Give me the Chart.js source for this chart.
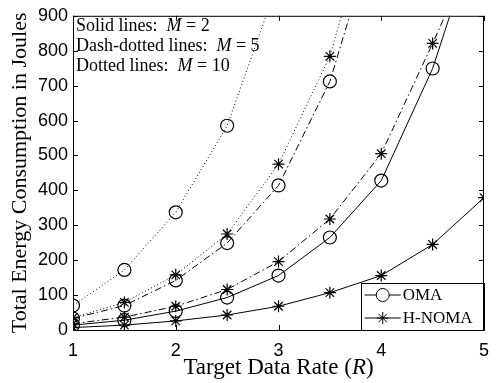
<!DOCTYPE html>
<html>
<head>
<meta charset="utf-8">
<script src="https://cdn.jsdelivr.net/npm/chart.js@4"></script>
<style>
  body { margin: 0; background: #fff; }
  #wrap { width: 501px; height: 383px; }
</style>
</head>
<body>
<div id="wrap"><canvas id="energyChart"></canvas></div>
<script>
// target data rate R
const rates = [1, 1.5, 2, 2.5, 3, 3.5, 4, 4.5, 5];

// energy in Joules (values above 900 only steer the line off the top)
const omaM2 = [14, 28, 54, 93, 156, 265, 428, 749, 1200];
const hnomaM2 = [7, 14, 26, 43, 68, 107, 156, 245, 379];
const omaM5 = [33, 70, 142, 249, 414, 712, 1200, null, null];
const hnomaM5 = [18, 37, 68, 116, 196, 318, 505, 821, 1150];
const omaM10 = [70, 172, 337, 585, 1000, null, null, null, null];
const hnomaM10 = [35, 79, 158, 275, 475, 784, 1300, null, null];

const yTicks = [0, 100, 200, 300, 400, 500, 600, 700, 800, 900];
const xTicks = [1, 2, 3, 4, 5];

const serif = '"Liberation Serif", serif';
const sans = '"Liberation Sans", Arial, sans-serif';

const solid = [];
const dashDot = [7, 3, 1.5, 3];
const dotted = [1, 2.5];

function series(label, values, dash, marker) {
    return {
        label: label,
        data: rates.map((r, i) => ({ x: r, y: values[i] })),
        borderColor: '#000',
        borderWidth: 1,
        borderDash: dash,
        pointStyle: marker,
        pointRadius: marker === 'circle' ? 6.5 : 6,
        pointBorderColor: '#000',
        pointBackgroundColor: 'rgba(0,0,0,0)',
        pointBorderWidth: 1.2,
        tension: 0,
        fill: false
    };
}

// draws text made of plain and italic pieces, left aligned
function mixedText(ctx, parts, x, y, size) {
    parts.forEach(p => {
        ctx.font = (p[1] ? 'italic ' : '') + size + 'px ' + serif;
        ctx.fillText(p[0], x, y);
        x += ctx.measureText(p[0]).width;
    });
}

function mixedWidth(ctx, parts, size) {
    let w = 0;
    parts.forEach(p => {
        ctx.font = (p[1] ? 'italic ' : '') + size + 'px ' + serif;
        w += ctx.measureText(p[0]).width;
    });
    return w;
}

const framePlugin = {
    id: 'frame',
    afterDraw(chart) {
        const ctx = chart.ctx;
        const a = chart.chartArea;
        const xs = chart.scales.x;
        const ys = chart.scales.y;
        ctx.save();
        ctx.strokeStyle = '#000';
        ctx.lineWidth = 1;

        // inner ticks on all four sides
        ctx.beginPath();
        yTicks.forEach(v => {
            const py = Math.round(ys.getPixelForValue(v)) + 0.5;
            ctx.moveTo(a.left, py); ctx.lineTo(a.left + 5, py);
            ctx.moveTo(a.right, py); ctx.lineTo(a.right - 5, py);
        });
        xTicks.forEach(v => {
            const px = Math.round(xs.getPixelForValue(v)) + 0.5;
            ctx.moveTo(px, a.bottom); ctx.lineTo(px, a.bottom - 5);
            ctx.moveTo(px, a.top); ctx.lineTo(px, a.top + 5);
        });
        ctx.stroke();

        // note in the upper left corner
        ctx.fillStyle = '#000';
        ctx.textBaseline = 'middle';
        ctx.textAlign = 'left';
        const notes = [
            [['Solid lines:  ', false], ['M', true], [' = 2', false]],
            [['Dash-dotted lines:  ', false], ['M', true], [' = 5', false]],
            [['Dotted lines:  ', false], ['M', true], [' = 10', false]]
        ];
        notes.forEach((n, i) => mixedText(ctx, n, a.left + 3, a.top + 10 + i * 20, 18));

        // legend box in the lower right corner
        const lx = a.left + (a.right - a.left) * 0.7;
        const ly = a.bottom - 47;
        ctx.fillStyle = '#fff';
        ctx.fillRect(lx, ly, a.right - lx, a.bottom - ly);
        ctx.strokeRect(Math.round(lx) + 0.5, Math.round(ly) + 0.5, a.right - Math.round(lx), a.bottom - Math.round(ly));
        const entries = [['OMA', 'circle', 6.5], ['H-NOMA', 'star', 6]];
        entries.forEach((e, i) => {
            const cy = ly + 12 + i * 23;
            ctx.beginPath();
            ctx.moveTo(lx + 4, cy); ctx.lineTo(lx + 40, cy);
            ctx.stroke();
            Chart.helpers.drawPoint(ctx, { pointStyle: e[1], radius: e[2], borderWidth: 1.2 }, lx + 22, cy);
            ctx.fillStyle = '#000';
            ctx.font = '17px ' + serif;
            ctx.fillText(e[0], lx + 42, cy + 1);
        });

        // outer box
        ctx.strokeRect(a.left + 0.5, a.top + 0.5, a.right - a.left - 1, a.bottom - a.top);

        // axis titles
        ctx.fillStyle = '#000';
        const xt = [['Target Data Rate (', false], ['R', true], [')', false]];
        const xw = mixedWidth(ctx, xt, 23);
        mixedText(ctx, xt, (a.left + a.right) / 2 - xw / 2, 368, 23);

        ctx.translate(20, (a.top + a.bottom) / 2);
        ctx.rotate(-Math.PI / 2);
        ctx.textAlign = 'center';
        ctx.font = '22px ' + serif;
        ctx.fillText('Total Energy Consumption in Joules', 0, 0);
        ctx.restore();
    }
};

const ctx = document.getElementById('energyChart');

new Chart(ctx, {
    type: 'line',
    data: {
        datasets: [
            series('OMA, M = 2', omaM2, solid, 'circle'),
            series('H-NOMA, M = 2', hnomaM2, solid, 'star'),
            series('OMA, M = 5', omaM5, dashDot, 'circle'),
            series('H-NOMA, M = 5', hnomaM5, dashDot, 'star'),
            series('OMA, M = 10', omaM10, dotted, 'circle'),
            series('H-NOMA, M = 10', hnomaM10, dotted, 'star')
        ]
    },
    options: {
        responsive: true,
        maintainAspectRatio: false,
        animation: false,
        events: [],
        layout: { padding: { top: 7, right: 17, left: 0, bottom: 0 } },
        plugins: {
            legend: { display: false },
            tooltip: { enabled: false }
        },
        scales: {
            x: {
                type: 'linear',
                min: 1,
                max: 5,
                afterFit: s => { s.height = 53; },
                afterBuildTicks: s => { s.ticks = xTicks.map(v => ({ value: v })); },
                grid: { display: false, drawTicks: false },
                border: { display: false },
                ticks: { color: '#000', font: { family: sans, size: 18 }, padding: 10 }
            },
            y: {
                min: 0,
                max: 900,
                afterFit: s => { s.width = 73; },
                afterBuildTicks: s => { s.ticks = yTicks.map(v => ({ value: v })); },
                grid: { display: false, drawTicks: false },
                border: { display: false },
                ticks: { color: '#000', font: { family: sans, size: 18 }, padding: 5 }
            }
        }
    },
    plugins: [framePlugin]
});
</script>
</body>
</html>
